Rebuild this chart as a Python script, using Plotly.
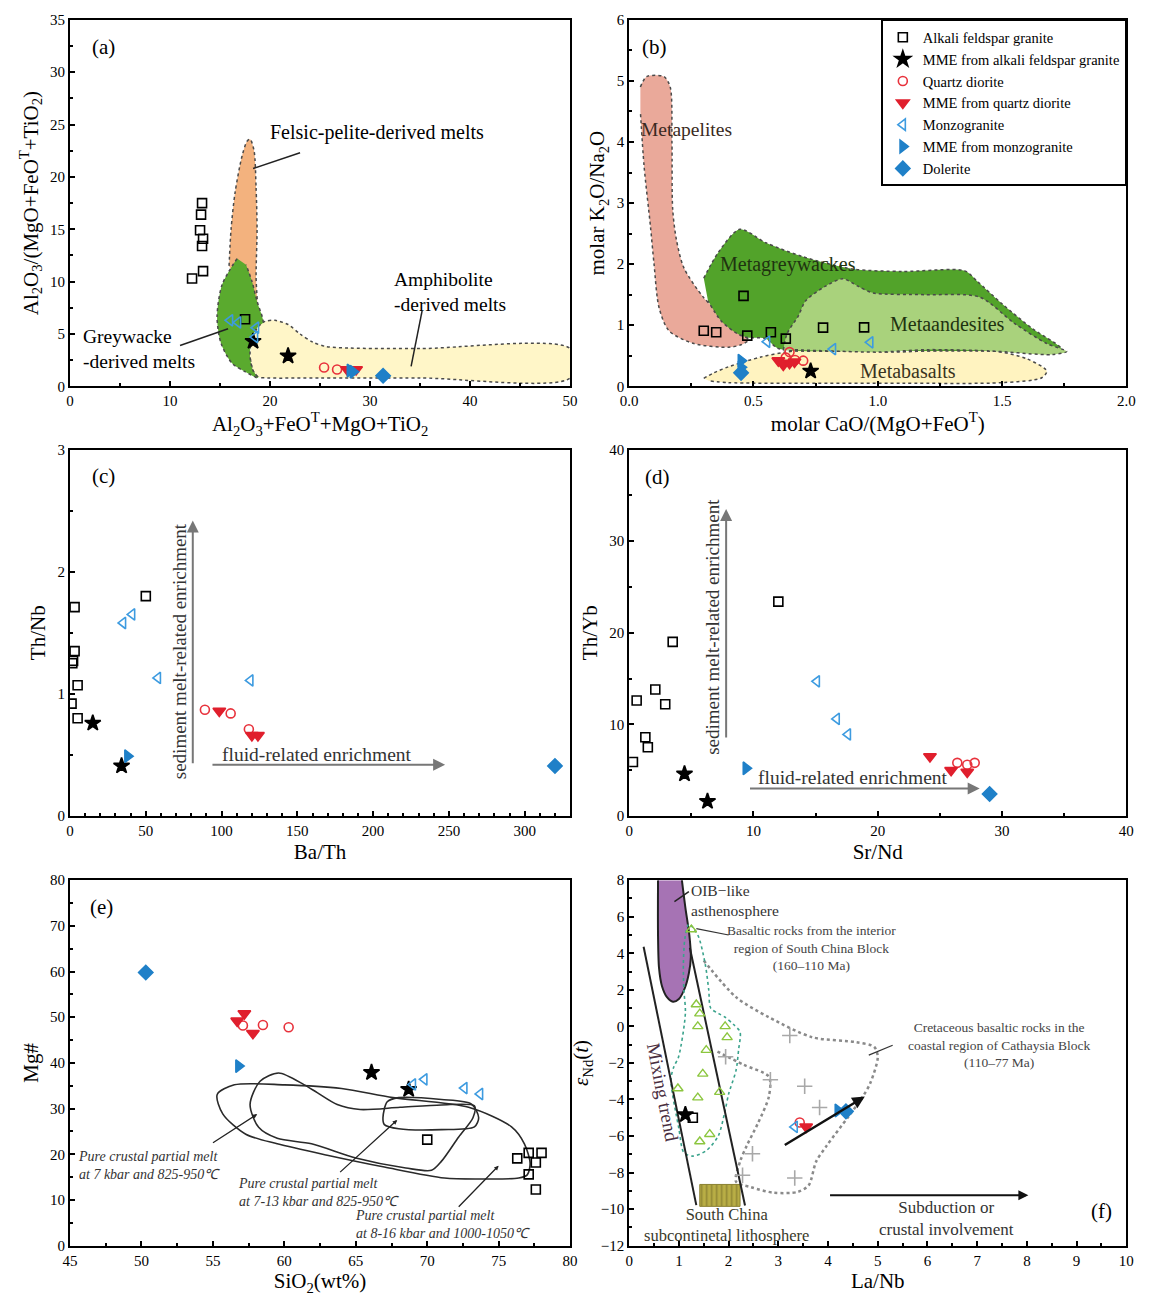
import plotly.graph_objects as go

FONT = "Liberation Serif"
W, H = 1156, 1307

# ======================= DATA =======================
# ---- panel (a): Al2O3/(MgO+FeOT+TiO2) vs Al2O3+FeOT+MgO+TiO2
a_afg_x = [13.2, 13.1, 13.0, 13.3, 13.2, 13.3, 12.2, 17.5]
a_afg_y = [17.5, 16.4, 14.9, 14.1, 13.4, 11.0, 10.3, 6.4]
a_mme_afg_x = [21.8, 18.3]
a_mme_afg_y = [2.9, 4.3]
a_qd_x = [25.4, 26.7]
a_qd_y = [1.8, 1.6]
a_mme_qd_x = [27.7, 28.1, 28.6]
a_mme_qd_y = [1.6, 1.5, 1.6]
a_mz_x = [16.0, 16.8, 18.6, 18.5]
a_mz_y = [6.3, 6.1, 5.6, 4.7]
a_mme_mz_x = [28.0, 28.3]
a_mme_mz_y = [1.5, 1.4]
a_dol_x = [31.3]
a_dol_y = [1.0]
# fields
a_pelite_x = [15.9, 16.1, 16.5, 17.2, 17.7, 18.0, 18.4, 18.6, 18.7, 18.6, 18.7, 17.5]
a_pelite_y = [11.5, 15.0, 18.5, 22.0, 23.4, 23.6, 22.5, 19.0, 15.0, 10.5, 6.5, 9.0]
a_grey_x = [16.7, 15.2, 14.7, 15.1, 16.2, 17.5, 18.8, 18.3, 18.0, 18.2, 18.9, 19.3, 18.7, 18.2, 17.6]
a_grey_y = [12.2, 9.7, 6.6, 4.1, 2.2, 1.4, 0.8, 1.5, 2.8, 4.7, 5.8, 6.1, 8.1, 10.0, 11.6]
a_amph_x = [18.2, 18.9, 19.5, 20.5, 21.8, 23.0, 24.3, 25.6, 28.0, 35.0, 50.0, 50.0, 35.0, 25.0, 19.8, 18.8, 18.3, 18.0]
a_amph_y = [4.7, 5.8, 6.2, 6.3, 5.9, 5.0, 4.2, 3.8, 3.65, 3.6, 3.6, 0.8, 0.8, 0.8, 0.8, 0.9, 1.5, 2.8]

# ---- panel (b): molar K2O/Na2O vs molar CaO/(MgO+FeOT)
b_afg_x = [0.46, 0.30, 0.35, 0.475, 0.57, 0.63, 0.78, 0.945]
b_afg_y = [1.48, 0.91, 0.885, 0.83, 0.885, 0.78, 0.96, 0.965]
b_mme_afg_x = [0.73]
b_mme_afg_y = [0.25]
b_qd_x = [0.645, 0.667, 0.70, 0.63]
b_qd_y = [0.56, 0.43, 0.42, 0.47]
b_mme_qd_x = [0.60, 0.62, 0.645, 0.665]
b_mme_qd_y = [0.42, 0.35, 0.38, 0.40]
b_mz_x = [0.555, 0.82, 0.97]
b_mz_y = [0.73, 0.61, 0.72]
b_mme_mz_x = [0.45, 0.45]
b_mme_mz_y = [0.42, 0.31]
b_dol_x = [0.45]
b_dol_y = [0.22]
# fields
b_pel_x = [0.045, 0.07, 0.14, 0.165, 0.172, 0.175, 0.19, 0.22, 0.30, 0.38, 0.44, 0.48, 0.45, 0.40, 0.26, 0.16, 0.12, 0.10, 0.085, 0.06, 0.045]
b_pel_y = [4.9, 5.07, 5.07, 4.9, 4.0, 2.9, 2.4, 1.94, 1.45, 1.13, 0.88, 0.76, 0.68, 0.64, 0.70, 0.91, 1.29, 2.0, 2.64, 3.6, 4.5]
b_grw_x = [0.30, 0.36, 0.445, 0.55, 0.70, 0.90, 1.10, 1.35, 1.40, 1.50, 1.62, 1.74, 1.40, 1.00, 0.60, 0.55, 0.475, 0.436, 0.37, 0.317]
b_grw_y = [1.77, 2.20, 2.57, 2.35, 2.12, 1.92, 1.88, 1.89, 1.72, 1.35, 0.95, 0.60, 0.58, 0.58, 0.62, 0.78, 0.80, 0.86, 1.07, 1.40]
b_and_x = [0.62, 0.635, 0.68, 0.71, 0.79, 0.86, 0.92, 0.98, 1.19, 1.41, 1.55, 1.68, 1.76, 1.70, 1.45, 1.20, 1.00, 0.80, 0.66]
b_and_y = [0.59, 0.86, 1.15, 1.40, 1.64, 1.76, 1.64, 1.53, 1.50, 1.46, 1.03, 0.70, 0.57, 0.52, 0.58, 0.60, 0.56, 0.58, 0.60]
b_bas_x = [0.30, 0.34, 0.40, 0.53, 0.63, 0.79, 1.06, 1.26, 1.48, 1.60, 1.68, 1.66, 1.50, 1.10, 0.70, 0.40, 0.32]
b_bas_y = [0.13, 0.22, 0.32, 0.48, 0.56, 0.61, 0.56, 0.59, 0.57, 0.45, 0.25, 0.14, 0.06, 0.05, 0.05, 0.06, 0.09]

# ---- panel (c): Th/Nb vs Ba/Th
c_afg_x = [3, 3, 2, 1.5, 5, 1, 5, 50]
c_afg_y = [1.71, 1.35, 1.27, 1.25, 1.07, 0.92, 0.80, 1.80]
c_mme_afg_x = [15, 34]
c_mme_afg_y = [0.76, 0.41]
c_qd_x = [89, 106, 118]
c_qd_y = [0.87, 0.84, 0.71]
c_mme_qd_x = [98.5, 120, 124]
c_mme_qd_y = [0.86, 0.66, 0.66]
c_mz_x = [35, 41, 58, 119]
c_mz_y = [1.58, 1.65, 1.13, 1.11]
c_mme_mz_x = [38]
c_mme_mz_y = [0.49]
c_dol_x = [320]
c_dol_y = [0.41]

# ---- panel (d): Th/Yb vs Sr/Nd
d_afg_x = [0.3, 0.6, 1.3, 1.5, 2.1, 2.9, 3.5, 12.0]
d_afg_y = [5.9, 12.6, 8.6, 7.5, 13.8, 12.2, 19.0, 23.4]
d_mme_afg_x = [4.45, 6.3]
d_mme_afg_y = [4.6, 1.6]
d_qd_x = [26.4, 27.2, 27.8]
d_qd_y = [5.8, 5.6, 5.8]
d_mme_qd_x = [24.2, 25.9, 27.2]
d_mme_qd_y = [6.5, 5.0, 4.8]
d_mz_x = [15.1, 16.7, 17.6]
d_mz_y = [14.7, 10.6, 8.9]
d_mme_mz_x = [9.4]
d_mme_mz_y = [5.2]
d_dol_x = [29.0]
d_dol_y = [2.4]

# ---- panel (e): Mg# vs SiO2
e_afg_x = [70.0, 76.3, 77.1, 78.0, 77.6, 77.1, 77.6]
e_afg_y = [23.2, 19.1, 20.3, 20.3, 18.2, 15.6, 12.3]
e_mme_afg_x = [66.1, 68.7]
e_mme_afg_y = [37.9, 34.2]
e_qd_x = [57.1, 58.5, 60.3]
e_qd_y = [48.2, 48.3, 47.8]
e_mme_qd_x = [57.2, 56.7, 57.8]
e_mme_qd_y = [50.8, 49.2, 46.5]
e_mz_x = [69.0, 69.8, 72.6, 73.7]
e_mz_y = [35.3, 36.4, 34.5, 33.2]
e_mme_mz_x = [56.8]
e_mme_mz_y = [39.3]
e_dol_x = [50.3]
e_dol_y = [59.8]
# melt fields (closed curves)
e_loopA_x = [55.3, 56.5, 60.0, 64.0, 67.6, 72.9, 75.9, 76.8, 77.2, 77.0, 76.4, 74.0, 71.2, 67.0, 63.0, 59.5, 57.3, 55.7, 55.3]
e_loopA_y = [33.1, 35.2, 35.2, 34.4, 32.4, 30.3, 26.0, 22.3, 18.0, 15.5, 14.8, 14.6, 14.8, 17.2, 19.8, 22.3, 24.4, 28.8, 33.1]
e_loopB_x = [59.6, 61.4, 62.3, 63.7, 65.3, 68.1, 71.0, 73.3, 73.2, 72.2, 71.0, 70.3, 68.5, 65.0, 61.9, 59.5, 58.2, 57.6, 58.3, 59.6]
e_loopB_y = [37.8, 35.2, 33.5, 30.9, 29.8, 30.3, 30.8, 30.6, 28.0, 23.8, 18.5, 16.5, 17.0, 19.2, 22.3, 23.5, 25.9, 30.9, 36.0, 37.8]
e_loopC_x = [66.9, 67.2, 68.0, 71.0, 73.1, 73.6, 73.3, 71.0, 68.0, 67.0, 66.9]
e_loopC_y = [28.0, 31.5, 32.4, 32.0, 31.0, 28.0, 26.0, 25.4, 25.6, 26.5, 28.0]

# ---- panel (f): eNd(t) vs La/Nb
f_afg_x = [1.28]
f_afg_y = [-5.0]
f_mme_afg_x = [1.13]
f_mme_afg_y = [-4.83]
f_qd_x = [3.43]
f_qd_y = [-5.26]
f_mme_qd_x = [3.56]
f_mme_qd_y = [-5.5]
f_mz_x = [3.33]
f_mz_y = [-5.5]
f_mme_mz_x = [4.2]
f_mme_mz_y = [-4.6]
f_dol_x = [4.36]
f_dol_y = [-4.65]
# reference fields
f_oib_x = [0.58, 0.58, 0.60, 0.66, 0.76, 0.88, 1.00, 1.12, 1.20, 1.24, 1.21, 1.13, 1.06]
f_oib_y = [8.0, 5.0, 3.2, 2.2, 1.6, 1.35, 1.5, 2.1, 2.9, 3.8, 5.0, 6.5, 8.0]
f_int_x = [1.20, 1.38, 1.53, 1.60, 1.64, 1.80, 1.93, 2.10, 2.23, 2.20, 2.15, 2.00, 1.93, 1.79, 1.55, 1.28, 1.10, 1.00, 0.84, 0.90, 0.99, 1.13, 1.10, 1.09, 1.12, 1.20]
f_int_y = [5.6, 5.0, 3.4, 2.0, 1.0, 0.7, 0.5, 0.1, -0.3, -1.3, -2.4, -3.7, -4.6, -6.0, -6.8, -7.1, -6.9, -5.6, -2.9, -2.2, -1.7, 0.7, 2.0, 3.4, 4.8, 5.6]
f_int_pts_x = [1.25, 1.35, 1.42, 1.38, 1.93, 1.97, 1.55, 1.48, 1.82, 0.98, 1.38, 1.42, 1.62]
f_int_pts_y = [5.3, 1.2, 0.7, 0.0, 0.0, -0.6, -1.3, -2.6, -3.6, -3.4, -3.9, -6.3, -5.9]
f_cre_x = [1.50, 2.15, 2.81, 3.69, 4.56, 4.93, 5.00, 4.85, 4.70, 4.42, 3.97, 3.76, 3.61, 3.39, 2.90, 2.45, 2.15, 2.23, 2.37, 2.59, 2.81, 2.81, 2.30, 1.72]
f_cre_y = [3.6, 1.6, 0.5, -0.6, -0.86, -1.13, -1.68, -3.1, -3.84, -4.9, -6.54, -7.4, -8.7, -9.06, -9.1, -8.8, -8.5, -7.4, -6.5, -5.3, -3.84, -2.76, -2.1, -1.3]
f_cre_pts_x = [3.23, 1.94, 2.84, 3.53, 3.83, 2.48, 3.33, 2.28]
f_cre_pts_y = [-0.5, -1.66, -2.92, -3.28, -4.44, -6.97, -8.3, -8.15]
f_scl_x = [1.42, 2.23, 2.23, 1.42, 1.42]
f_scl_y = [-8.65, -8.65, -9.85, -9.85, -8.65]
f_mix_left_x = [0.29, 1.35]
f_mix_left_y = [4.36, -9.78]
f_mix_right_x = [1.22, 2.33]
f_mix_right_y = [4.3, -9.8]

# ======================= STYLE / LAYOUT =======================
PANELS = {  # pixel frame: left, right, top, bottom
    'a': (62, 570, 12, 383), 'b': (630, 1135, 12, 383),
    'c': (62, 570, 447, 818), 'd': (630, 1135, 447, 818),
    'e': (62, 570, 883, 1253), 'f': (630, 1135, 883, 1253),
}
AXN = {'a': '', 'b': '2', 'c': '3', 'd': '4', 'e': '5', 'f': '6'}

STY = {
    'afg': dict(name='Alkali feldspar granite', symbol='square-open', color='black', size=9),
    'mme_afg': dict(name='MME from alkali feldspar granite', symbol='star', color='black', size=12),
    'qd': dict(name='Quartz diorite', symbol='circle-open', color='#e8323c', size=9),
    'mme_qd': dict(name='MME from quartz diorite', symbol='triangle-down', color='#e01f2d', size=11),
    'mz': dict(name='Monzogranite', symbol='triangle-left-open', color='#3d9be0', size=10),
    'mme_mz': dict(name='MME from monzogranite', symbol='triangle-right', color='#1f80c8', size=11),
    'dol': dict(name='Dolerite', symbol='diamond', color='#1f80c8', size=11),
}
ORDER = ['afg', 'mme_afg', 'qd', 'mme_qd', 'mz', 'mme_mz', 'dol']
G = globals()

fig = go.Figure()


def xy(p):
    return 'x' + AXN[p], 'y' + AXN[p]


def field(p, xs, ys, fillc, linec='#4a4a4a', dash='dot', width=1.5, fill='toself', shape='spline'):
    xa, ya = xy(p)
    fig.add_trace(go.Scatter(x=xs, y=ys, xaxis=xa, yaxis=ya, mode='lines', fill=fill,
                             fillcolor=fillc, line=dict(color=linec, dash=dash, width=width, shape=shape,
                                                        smoothing=0.8),
                             showlegend=False, hoverinfo='skip'))


# panel (a) fields
field('a', a_amph_x, a_amph_y, '#fff6c8')
field('a', a_pelite_x, a_pelite_y, '#f3b27e')
field('a', a_grey_x, a_grey_y, '#5aaa2e')
# panel (b) fields
field('b', b_pel_x, b_pel_y, '#eaa99a')
field('b', b_bas_x, b_bas_y, '#fff3c0')
field('b', b_grw_x, b_grw_y, '#52a32a')
field('b', b_and_x, b_and_y, '#a9d27c')
# panel (e) melt fields
for lx, ly in [(e_loopA_x, e_loopA_y), (e_loopB_x, e_loopB_y), (e_loopC_x, e_loopC_y)]:
    field('e', lx, ly, 'rgba(0,0,0,0)', linec='#2a2a2a', dash='solid', width=1.6, fill='none')
# panel (f) fields
field('f', f_oib_x, f_oib_y, '#a673b4', linec='#222', dash='solid', width=2)
field('f', f_cre_x, f_cre_y, 'rgba(0,0,0,0)', linec='#8a8a8a', dash='dot', width=2.5, fill='none')
field('f', f_int_x, f_int_y, 'rgba(0,0,0,0)', linec='#3aa38c', dash='dot', width=1.6, fill='none')
xa, ya = xy('f')
fig.add_trace(go.Scatter(x=f_scl_x, y=f_scl_y, xaxis=xa, yaxis=ya, mode='lines', fill='toself',
                         fillcolor='#b5aa40', line=dict(color='#8a8030', width=1),
                         fillpattern=dict(shape='|', fgcolor='#6e6626', bgcolor='#b9ae45', size=5, solidity=0.35),
                         showlegend=False, hoverinfo='skip'))
for lx, ly in [(f_mix_left_x, f_mix_left_y), (f_mix_right_x, f_mix_right_y)]:
    fig.add_trace(go.Scatter(x=lx, y=ly, xaxis=xa, yaxis=ya, mode='lines',
                             line=dict(color='#222', width=2), showlegend=False, hoverinfo='skip'))
fig.add_trace(go.Scatter(x=f_cre_pts_x, y=f_cre_pts_y, xaxis=xa, yaxis=ya, mode='markers',
                         marker=dict(symbol='cross-thin-open', size=11, color='#a8a8a8',
                                     line=dict(color='#a8a8a8', width=1.6)),
                         showlegend=False, hoverinfo='skip'))
fig.add_trace(go.Scatter(x=f_int_pts_x, y=f_int_pts_y, xaxis=xa, yaxis=ya, mode='markers',
                         marker=dict(symbol='triangle-up-open', size=9, line=dict(color='#8cc63f', width=1.4),
                                     color='#8cc63f'),
                         showlegend=False, hoverinfo='skip'))

# sample points
for p in ['a', 'c', 'd', 'e', 'f', 'b']:
    xa, ya = xy(p)
    for k in ORDER:
        s = STY[k]
        xs = G[f'{p}_{k}_x']
        ys = G[f'{p}_{k}_y']
        fig.add_trace(go.Scatter(
            x=xs, y=ys, xaxis=xa, yaxis=ya, mode='markers', name=s['name'],
            marker=dict(symbol=s['symbol'], size=s['size'], color=s['color'],
                        line=dict(color=s['color'], width=1.6)),
            showlegend=(p == 'b')))

# axes
AXCFG = {
    'a': dict(xr=[0, 50], xd=10, xm=5, yr=[0, 35], yd=5, ym=2.5,
              xt='Al<sub>2</sub>O<sub>3</sub>+FeO<sup>T</sup>+MgO+TiO<sub>2</sub>',
              yt='Al<sub>2</sub>O<sub>3</sub>/(MgO+FeO<sup>T</sup>+TiO<sub>2</sub>)', xf=''),
    'b': dict(xr=[0, 2], xd=0.5, xm=0.25, yr=[0, 6], yd=1, ym=0.5,
              xt='molar CaO/(MgO+FeO<sup>T</sup>)', yt='molar K<sub>2</sub>O/Na<sub>2</sub>O', xf='.1f'),
    'c': dict(xr=[0, 330], xd=50, xm=10, yr=[0, 3], yd=1, ym=0.5, xt='Ba/Th', yt='Th/Nb', xf=''),
    'd': dict(xr=[0, 40], xd=10, xm=5, yr=[0, 40], yd=10, ym=5, xt='Sr/Nd', yt='Th/Yb', xf=''),
    'e': dict(xr=[45, 80], xd=5, xm=2.5, yr=[0, 80], yd=10, ym=5, xt='SiO<sub>2</sub>(wt%)', yt='Mg#', xf=''),
    'f': dict(xr=[0, 10], xd=1, xm=0.5, yr=[-12, 8], yd=2, ym=1, xt='La/Nb',
              yt='<i>ε</i><sub>Nd</sub>(<i>t</i>)', xf=''),
}
layout_axes = {}
for p, (l, r, t, b) in PANELS.items():
    c = AXCFG[p]
    n = AXN[p]
    common = dict(showline=True, linecolor='black', linewidth=2, mirror=True, showgrid=False,
                  zeroline=False, ticks='inside', ticklen=5, tickwidth=1.5, tickcolor='black',
                  tickfont=dict(family=FONT, size=15, color='black'))
    layout_axes['xaxis' + n] = dict(common, domain=[l / W, r / W], range=c['xr'], dtick=c['xd'],
                                    tick0=c['xr'][0], tickformat=c['xf'],
                                    minor=dict(dtick=c['xm'], ticks='inside', ticklen=3, tickcolor='black'),
                                    anchor='y' + n,
                                    title=dict(text=c['xt'], font=dict(family=FONT, size=21, color='black'),
                                               standoff=6))
    layout_axes['yaxis' + n] = dict(common, domain=[1 - b / H, 1 - t / H], range=c['yr'], dtick=c['yd'],
                                    tick0=c['yr'][0],
                                    minor=dict(dtick=c['ym'], ticks='inside', ticklen=3, tickcolor='black'),
                                    anchor='x' + n,
                                    title=dict(text=c['yt'], font=dict(family=FONT, size=21, color='black'),
                                               standoff=6))

ann = []
shapes = []


def txt(p, x, y, text, size=16, color='black', **kw):
    xa, ya = xy(p)
    d = dict(xref=xa, yref=ya, x=x, y=y, text=text, showarrow=False,
             font=dict(family=FONT, size=size, color=color))
    d.update(kw)
    ann.append(d)


def arrow(p, x0, y0, x1, y1, color='black', width=1.5, head=2, hs=1.0):
    xa, ya = xy(p)
    ann.append(dict(xref=xa, yref=ya, axref=xa, ayref=ya, x=x1, y=y1, ax=x0, ay=y0, text='',
                    showarrow=True, arrowhead=head, arrowsize=hs, arrowwidth=width,
                    arrowcolor=color, standoff=0, startstandoff=0))


def seg(p, x0, y0, x1, y1, color='#222', width=1.5):
    xa, ya = xy(p)
    shapes.append(dict(type='line', xref=xa, yref=ya, x0=x0, y0=y0, x1=x1, y1=y1,
                       line=dict(color=color, width=width)))


# panel (a) labels
txt('a', 3.3, 32.4, '(a)', 21)
txt('a', 30.7, 24.2, 'Felsic-pelite-derived melts', 20)
seg('a', 23.0, 22.3, 18.3, 20.8)
txt('a', 32.2, 9.0, 'Amphibolite<br>-derived melts', 19.5, xanchor='left', align='left')
seg('a', 35.2, 7.2, 34.1, 1.9)
txt('a', 1.1, 3.6, 'Greywacke<br>-derived melts', 19.5, xanchor='left', align='left')
seg('a', 11.0, 3.9, 15.8, 5.5)
# panel (b)
txt('b', 0.10, 5.55, '(b)', 21)
txt('b', 0.23, 4.2, 'Metapelites', 19.5, color='#3a2a22')
txt('b', 0.64, 2.0, 'Metagreywackes', 20, color='#1f3310')
txt('b', 1.28, 1.02, 'Metaandesites', 20, color='#1f3310')
txt('b', 1.12, 0.25, 'Metabasalts', 20, color='#3a3320')
# panel (c)
txt('c', 22, 2.78, '(c)', 21)
arrow('c', 81, 0.42, 81, 2.42, color='#777', width=2, head=2, hs=1.2)
arrow('c', 93, 0.42, 247.5, 0.42, color='#777', width=2, head=2, hs=1.2)
txt('c', 163, 0.50, 'fluid-related enrichment', 19.5, color='#333')
txt('c', 72, 1.35, 'sediment melt-related enrichment', 19, color='#333', textangle=-90)
# panel (d)
txt('d', 2.3, 37.0, '(d)', 21)
arrow('d', 7.8, 8.4, 7.8, 33.5, color='#777', width=2, head=2, hs=1.2)
arrow('d', 9.6, 3.0, 28.2, 3.0, color='#777', width=2, head=2, hs=1.2)
txt('d', 18.0, 4.2, 'fluid-related enrichment', 19.5, color='#333')
txt('d', 6.7, 20.7, 'sediment melt-related enrichment', 19, color='#333', textangle=-90)
# panel (e)
txt('e', 47.2, 74.1, '(e)', 21)
txt('e', 45.4, 17.6, '<i>Pure crustal partial melt<br>at 7 kbar and 825-950℃</i>', 14, color='#333',
    xanchor='left', align='left')
txt('e', 56.6, 11.7, '<i>Pure crustal partial melt<br>at 7-13 kbar and 825-950℃</i>', 14, color='#333',
    xanchor='left', align='left')
txt('e', 64.8, 4.6, '<i>Pure crustal partial melt<br>at 8-16 kbar and 1000-1050℃</i>', 14, color='#333',
    xanchor='left', align='left')
arrow('e', 54.9, 22.3, 58.1, 28.8, color='#222', width=1.3, head=2, hs=0.7)
arrow('e', 63.8, 15.8, 67.9, 27.5, color='#222', width=1.3, head=2, hs=0.7)
arrow('e', 72.1, 8.2, 75.0, 17.5, color='#222', width=1.3, head=2, hs=0.7)
# panel (f)
txt('f', 9.5, -10.1, '(f)', 21)
txt('f', 1.2, 6.9, 'OIB−like<br>asthenosphere', 15.5, color='#333', xanchor='left', align='left')
seg('f', 1.2, 7.37, 0.91, 6.83)
txt('f', 3.66, 4.27, 'Basaltic rocks from the interior<br>region of South China Block<br>(160–110 Ma)', 13.5,
    color='#444')
seg('f', 2.0, 5.0, 1.35, 5.35, color='#333', width=1.2)
txt('f', 7.43, -1.0, 'Cretaceous basaltic rocks in the<br>coastal region of Cathaysia Block<br>(110–77 Ma)', 13.5,
    color='#444')
seg('f', 5.3, -1.03, 4.82, -1.57, color='#333', width=1.2)
txt('f', 0.68, -3.6, 'Mixing trend', 19, color='#4a2f3f', textangle=79)
txt('f', 1.95, -10.85, 'South China<br>subcontinetal lithosphere', 16.5, color='#3a3a2a')
arrow('f', 4.01, -9.24, 8.03, -9.24, color='#111', width=2, head=2, hs=1.0)
txt('f', 6.39, -10.5, 'Subduction or<br>crustal involvement', 17, color='#333')
arrow('f', 3.1, -6.54, 4.74, -3.84, color='#111', width=2.5, head=2, hs=1.0)

fig.update_layout(
    width=W, height=H, margin=dict(l=0, r=0, t=0, b=0),
    paper_bgcolor='white', plot_bgcolor='white',
    font=dict(family=FONT, size=15, color='black'),
    annotations=ann, shapes=shapes,
    legend=dict(x=1135 / W, xanchor='right', y=1 - 12 / H, yanchor='top', bgcolor='white',
                bordercolor='black', borderwidth=1.5, font=dict(family=FONT, size=14.5, color='black'),
                tracegroupgap=0, itemwidth=30),
    **layout_axes,
)

fig.write_html("out.html", config={'displayModeBar': False},
               post_script="document.body.style.margin='0px';document.body.style.padding='0px';")
